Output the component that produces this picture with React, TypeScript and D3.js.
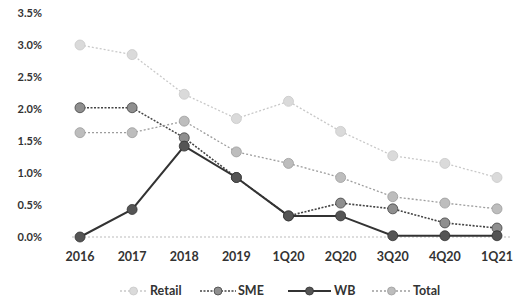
import React from 'react';
import * as d3 from 'd3';

const periods = ['2016', '2017', '2018', '2019', '1Q20', '2Q20', '3Q20', '4Q20', '1Q21'];
const retail = [3.0, 2.85, 2.23, 1.85, 2.12, 1.65, 1.27, 1.15, 0.93];
const sme = [2.02, 2.02, 1.55, 0.93, 0.33, 0.53, 0.44, 0.22, 0.14];
const wb = [0.0, 0.43, 1.42, 0.93, 0.33, 0.33, 0.02, 0.02, 0.02];
const total = [1.63, 1.63, 1.81, 1.33, 1.15, 0.93, 0.63, 0.53, 0.44];
const yTicks = [0, 0.5, 1.0, 1.5, 2.0, 2.5, 3.0, 3.5];

const series = [
  { name: 'Retail', values: retail, line: '#c9c9c9', dot: '#dadada', dash: '2,2', width: 1.3 },
  { name: 'SME', values: sme, line: '#444444', dot: '#8f8f8f', dash: '2,1.5', width: 1.6 },
  { name: 'WB', values: wb, line: '#333333', dot: '#555555', dash: null, width: 2 },
  { name: 'Total', values: total, line: '#9d9d9d', dot: '#bdbdbd', dash: '2,2', width: 1.3 },
];

const W = 518;
const H = 302;
const font = 'Lato, "Open Sans", sans-serif';

export default function App() {
  const x = d3.scalePoint<string>().domain(periods).range([80, 497]);
  const y = d3.scaleLinear().domain([0, 3.5]).range([237, 13]);
  const line = d3.line<number>().x((_, i) => x(periods[i])!).y(d => y(d));

  const legendPos = [
    { x1: 120, x2: 147, tx: 150 },
    { x1: 200, x2: 236, tx: 238 },
    { x1: 288, x2: 331, tx: 334 },
    { x1: 372, x2: 411, tx: 413 },
  ];

  return (
    <svg width={W} height={H} style={{ position: 'absolute', left: 0, top: 0, background: '#fff' }}>
      {/* baseline */}
      <line x1={72} x2={510} y1={y(0)} y2={y(0)} stroke="#bbb" strokeWidth={1} strokeDasharray="2,2" />

      {yTicks.map(t => (
        <text key={t} x={42} y={y(t)} dy="0.35em" textAnchor="end" fontFamily={font} fontSize={11}
          fontWeight={700} fill="#333">
          {t.toFixed(1) + '%'}
        </text>
      ))}

      {periods.map(p => (
        <text key={p} x={x(p)} y={257} dy="0.35em" textAnchor="middle" fontFamily={font} fontSize={12.5}
          fontWeight={700} fill="#333">
          {p}
        </text>
      ))}

      {series.map(s => (
        <g key={s.name}>
          <path d={line(s.values) || ''} fill="none" stroke={s.line} strokeWidth={s.width}
            strokeDasharray={s.dash || undefined} />
          {s.values.map((v, i) => (
            <circle key={i} cx={x(periods[i])} cy={y(v)} r={5} fill={s.dot} stroke={s.line}
              strokeWidth={0.8} />
          ))}
        </g>
      ))}

      {series.map((s, i) => {
        const lp = legendPos[i];
        const cx = (lp.x1 + lp.x2) / 2;
        return (
          <g key={s.name}>
            <line x1={lp.x1} x2={lp.x2} y1={291} y2={291} stroke={s.line} strokeWidth={s.width}
              strokeDasharray={s.dash || undefined} />
            <circle cx={cx} cy={291} r={4} fill={s.dot} stroke={s.line} strokeWidth={0.8} />
            <text x={lp.tx} y={291} dy="0.35em" fontFamily={font} fontSize={12.5} fontWeight={700} fill="#333">
              {s.name}
            </text>
          </g>
        );
      })}
    </svg>
  );
}
